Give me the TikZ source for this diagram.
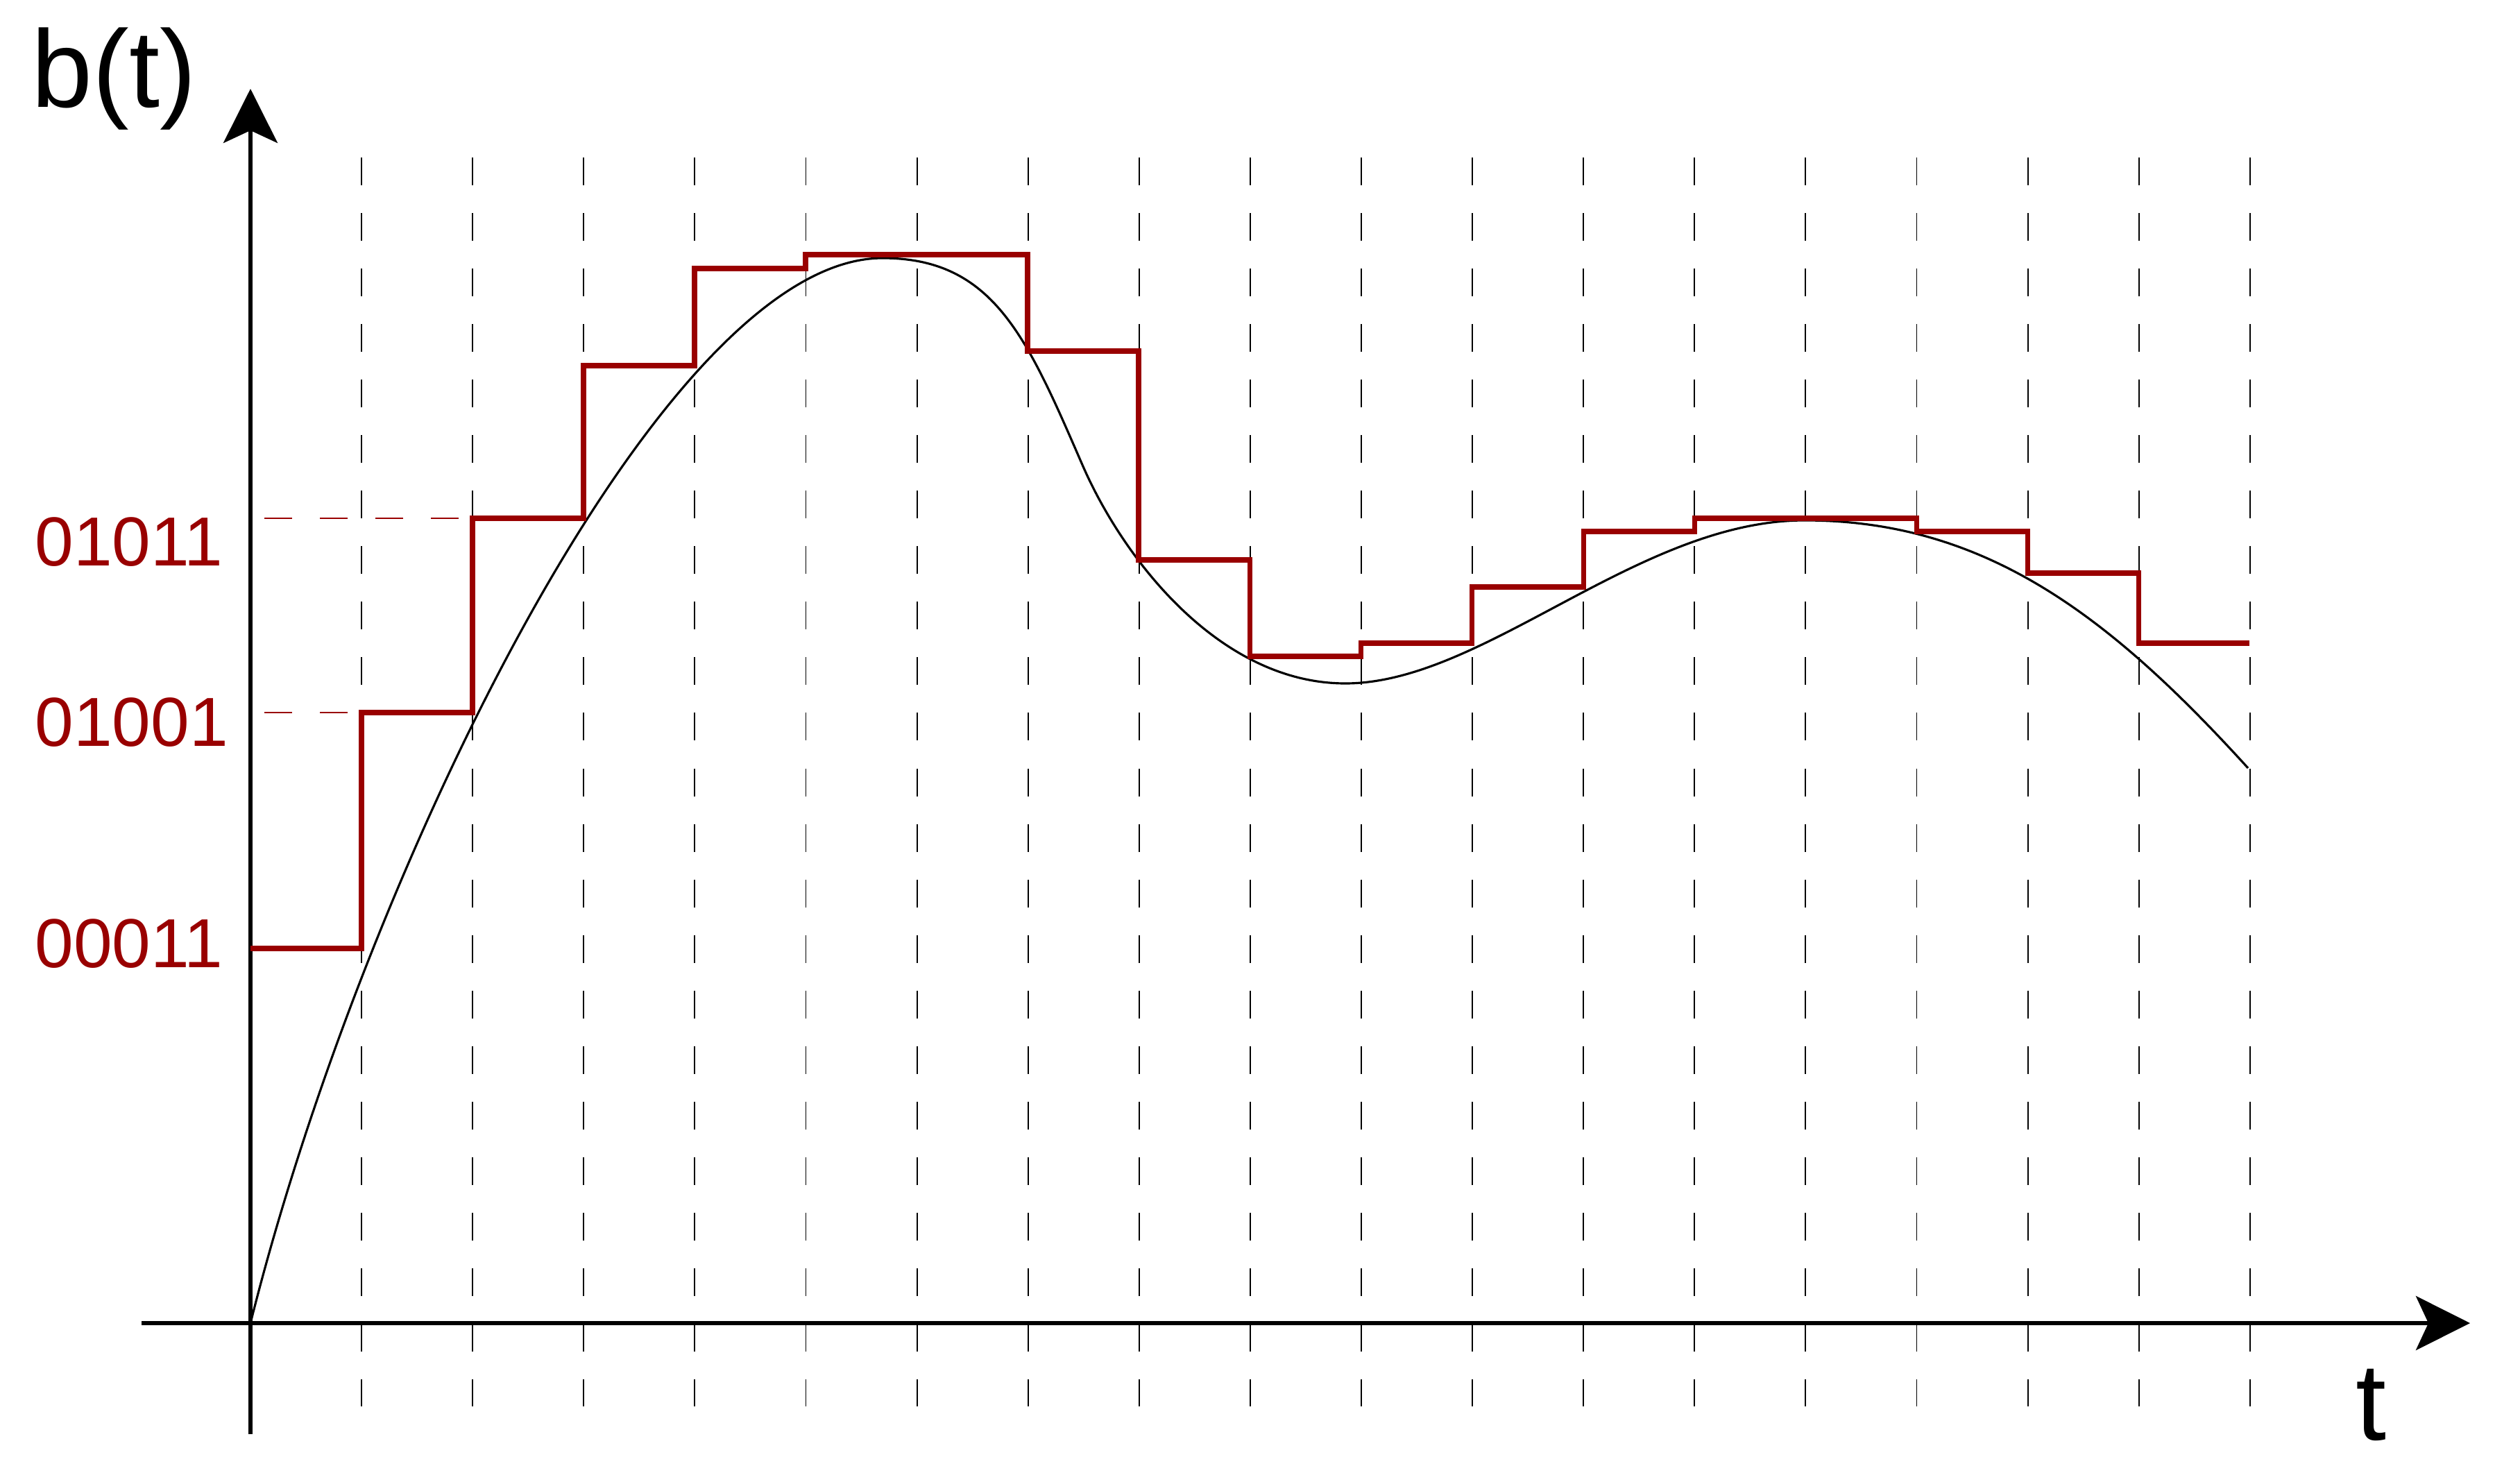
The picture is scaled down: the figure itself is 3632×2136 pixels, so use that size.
\documentclass[tikz,border=0pt]{standalone}
\usepackage{fontspec}
\setmainfont{Liberation Sans}
\usetikzlibrary{arrows.meta}
\definecolor{qred}{RGB}{153,0,0}
\begin{document}
\begin{tikzpicture}[x=0.01cm,y=-0.01cm,
  axis/.style={line width=1.5pt,-{Stealth[length=0.78cm,width=0.78cm,inset=0.18cm]}},
  gridline/.style={line width=0.55pt,dash pattern=on 0.4cm off 0.4cm},
  levelline/.style={qred,line width=0.55pt,dash pattern=on 0.4cm off 0.4cm},
  stepline/.style={qred,line width=2pt},
  signal/.style={line width=0.9pt},
  axlabel/.style={font=\fontsize{45}{54}\selectfont,inner sep=0pt},
  codelabel/.style={font=\fontsize{28.45}{34}\selectfont,text=qred,inner sep=0pt,anchor=base west}]
\useasboundingbox (0,0) rectangle (3632,2136);

% vertical dashed grid
\foreach \k in {1,...,18}{
  \coordinate (gt\k) at ({361+160.1*\k},227);
  \coordinate (gb\k) at ({361+160.1*\k},2027);
  \draw[gridline] (gt\k) -- (gb\k);
}

% level guide lines
\coordinate (l1a) at (381,747);
\coordinate (l1b) at (681,747);
\coordinate (l2a) at (381,1027);
\coordinate (l2b) at (521,1027);
\draw[levelline] (l1a) -- (l1b);
\draw[levelline] (l2a) -- (l2b);

% axes
\coordinate (O) at (361,1907);
\coordinate (ybot) at (361,2067);
\coordinate (ytop) at (361,128);
\coordinate (xleft) at (204,1907);
\coordinate (xright) at (3560,1907);
\draw[axis] (ybot) -- (ytop);
\draw[axis] (xleft) -- (xright);

% analog signal
\coordinate (pk1) at (1272,372);
\coordinate (inf1) at (1560,670);
\coordinate (mn1) at (1939,985);
\coordinate (pk2) at (2601,750);
\coordinate (fin) at (3240,1107);
\draw[signal] (O) .. controls (521,1267) and (952,372) .. (pk1)
 .. controls (1432,372) and (1480,486) .. (inf1)
 .. controls (1620,808) and (1759,985) .. (mn1)
 .. controls (2139,985) and (2361,750) .. (pk2)
 .. controls (2861,750) and (3040,887) .. (fin);

% quantised step signal
\draw[stepline,line join=miter] (361,1367) -- (521,1367) -- (521,1027) -- (681,1027)
 -- (681,747) -- (841,747) -- (841,527) -- (1001,527) -- (1001,387) -- (1161,387)
 -- (1161,367) -- (1481,367) -- (1481,506) -- (1641,506) -- (1641,807) -- (1801,807)
 -- (1801,946) -- (1961,946) -- (1961,927) -- (2121,927) -- (2121,846) -- (2282,846)
 -- (2282,766) -- (2442,766) -- (2442,747) -- (2762,747) -- (2762,766) -- (2922,766)
 -- (2922,826) -- (3082,826) -- (3082,927) -- (3242,927);

% labels
\node[axlabel,anchor=base west] (ylab) at (45,154) {b(t)};
\node[axlabel,anchor=base] (xlab) at (3417,2075) {t};
\node[codelabel] (c1) at (50,815) {01011};
\node[codelabel] (c2) at (50,1075) {01001};
\node[codelabel] (c3) at (50,1394) {00011};
\end{tikzpicture}
\end{document}
